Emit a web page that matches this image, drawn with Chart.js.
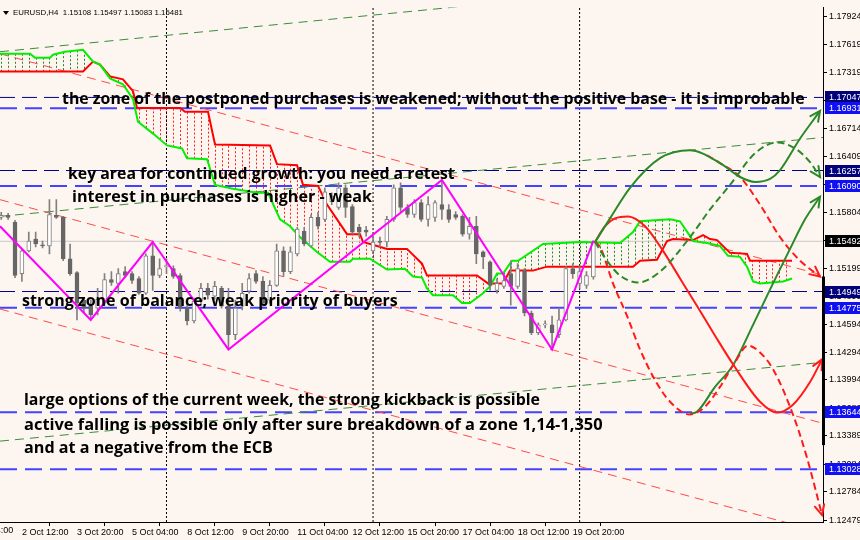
<!DOCTYPE html>
<html><head><meta charset="utf-8">
<script src="https://cdn.jsdelivr.net/npm/chart.js@4.4.1/dist/chart.umd.min.js"></script>
<style>html,body{margin:0;padding:0;background:#fdf6f0;}#wrap{width:860px;height:540px;}canvas{display:block;}</style>
</head><body><div id="wrap"><canvas id="c" width="860" height="540"></canvas></div>
<script>
// ---------- DATA ----------
const candleIdx = Array.from({length:87},(_,i)=>i);
const opens  = [1.15750,1.15772,1.15697,1.15143,1.15388,1.15516,1.15452,1.15442,1.15772,1.15750,1.15303,1.15154,1.14856,1.14792,1.14770,1.14824,1.15079,1.15037,1.15164,1.15143,1.15090,1.14930,1.15335,1.15122,1.15218,1.15196,1.15122,1.14770,1.14632,1.14845,1.14983,1.14898,1.14983,1.14792,1.14482,1.14792,1.14952,1.15143,1.15058,1.14856,1.15015,1.15388,1.15164,1.15356,1.15601,1.15442,1.15750,1.15729,1.15921,1.15857,1.16070,1.15868,1.15644,1.15612,1.15388,1.15484,1.15484,1.15729,1.16070,1.15857,1.15782,1.15910,1.15729,1.15750,1.15889,1.15836,1.15782,1.15761,1.15569,1.15655,1.15377,1.15271,1.14962,1.15005,1.15143,1.15005,1.15175,1.14717,1.14504,1.14589,1.14589,1.14482,1.14642,1.15196,1.15037,1.15015,1.15108];
const highs  = [1.15804,1.15793,1.15718,1.15399,1.15591,1.15591,1.15495,1.15942,1.15942,1.15761,1.15463,1.15164,1.14877,1.14856,1.14983,1.15143,1.15164,1.15196,1.15218,1.15164,1.15111,1.15356,1.15484,1.15303,1.15303,1.15228,1.15143,1.14824,1.14877,1.15037,1.15037,1.15058,1.15005,1.14983,1.14856,1.15037,1.15143,1.15175,1.15111,1.15068,1.15463,1.15431,1.15431,1.15644,1.15644,1.15782,1.15804,1.16070,1.16017,1.16123,1.16102,1.15889,1.15676,1.15655,1.15548,1.15537,1.15761,1.16102,1.16123,1.15889,1.15942,1.15942,1.15974,1.15932,1.16155,1.15889,1.15814,1.15782,1.15750,1.15761,1.15388,1.15282,1.15090,1.15122,1.15282,1.15250,1.15196,1.14738,1.14610,1.14632,1.14685,1.14770,1.15218,1.15250,1.15228,1.15164,1.15497];
const lows   = [1.15729,1.15729,1.15100,1.15058,1.15377,1.15431,1.15420,1.15356,1.15740,1.15282,1.15122,1.14642,1.14717,1.14642,1.14696,1.14802,1.15015,1.14930,1.15100,1.15037,1.14919,1.14919,1.14962,1.15100,1.15143,1.15090,1.14738,1.14589,1.14610,1.14824,1.14866,1.14866,1.14770,1.14323,1.14429,1.14749,1.14930,1.15037,1.14792,1.14824,1.15005,1.15111,1.15143,1.15335,1.15442,1.15431,1.15623,1.15708,1.15889,1.15836,1.15750,1.15569,1.15537,1.15548,1.15377,1.15431,1.15431,1.15708,1.15814,1.15750,1.15750,1.15708,1.15655,1.15708,1.15729,1.15697,1.15729,1.15548,1.15516,1.15250,1.15196,1.14962,1.14930,1.14983,1.14802,1.14983,1.14685,1.14482,1.14482,1.14557,1.14323,1.14451,1.14632,1.15090,1.14983,1.14983,1.15083];
const closes = [1.15772,1.15750,1.15122,1.15388,1.15495,1.15463,1.15442,1.15782,1.15750,1.15303,1.15143,1.14824,1.14770,1.14696,1.14866,1.15079,1.15047,1.15143,1.15122,1.15068,1.14930,1.15335,1.15122,1.15196,1.15228,1.15111,1.14770,1.14632,1.14845,1.14983,1.14909,1.15005,1.14792,1.14482,1.14770,1.14930,1.15090,1.15058,1.14824,1.15015,1.15388,1.15164,1.15377,1.15623,1.15463,1.15750,1.15655,1.16027,1.15974,1.16070,1.15857,1.15591,1.15591,1.15591,1.15484,1.15480,1.15729,1.16070,1.15857,1.15782,1.15910,1.15729,1.15889,1.15910,1.15836,1.15729,1.15750,1.15569,1.15655,1.15356,1.15324,1.15015,1.15037,1.15068,1.15005,1.15196,1.14717,1.14504,1.14589,1.14600,1.14504,1.14642,1.15196,1.15143,1.15164,1.15122,1.15481];

// Ichimoku cloud borders [bar index, price]
const spanA = [[-0.18,1.17519],[4.18,1.17519],[4.90,1.17477],[7.08,1.17477],[7.52,1.17509],[9.26,1.17541],[11.88,1.17562],[13.33,1.17434],[14.34,1.17402],[15.80,1.17253],[17.68,1.17189],[19.14,1.17029],[19.86,1.16784],[22.04,1.16656],[24.08,1.16528],[26.25,1.16496],[26.98,1.16390],[29.89,1.16379],[31.05,1.16102],[33.66,1.16059],[37.15,1.16017],[38.74,1.16017],[40.49,1.15729],[41.94,1.15655],[43.39,1.15537],[45.86,1.15377],[47.75,1.15271],[50.65,1.15271],[51.09,1.15303],[53.56,1.15303],[56.03,1.15186],[58.64,1.15196],[59.80,1.15111],[61.11,1.15100],[61.84,1.14983],[62.71,1.14909],[65.62,1.14909],[66.92,1.14824],[68.08,1.14824],[69.97,1.14930],[70.99,1.15005],[72.01,1.15143],[72.88,1.15143],[74.18,1.15282],[75.06,1.15282],[78.69,1.15463],[84.06,1.15484],[89.87,1.15474],[91.76,1.15591],[92.78,1.15708],[97.13,1.15729],[98.58,1.15708],[100.04,1.15548],[100.47,1.15495],[102.51,1.15474],[104.39,1.15442],[105.56,1.15335],[107.30,1.15324],[108.32,1.15218],[109.19,1.15058],[110.20,1.15037],[113.55,1.15058],[114.85,1.15090]];
const spanB = [[-0.18,1.17327],[11.88,1.17327],[13.33,1.17434],[14.34,1.17402],[15.80,1.17274],[17.68,1.17242],[19.14,1.17114],[19.72,1.16933],[25.96,1.16933],[26.69,1.16891],[30.03,1.16891],[31.05,1.16539],[39.04,1.16528],[40.05,1.16326],[42.96,1.16315],[43.83,1.16102],[46.01,1.16091],[47.31,1.15889],[50.22,1.15569],[52.11,1.15569],[52.54,1.15484],[54.58,1.15442],[56.03,1.15410],[58.93,1.15410],[61.11,1.15250],[61.84,1.15122],[69.10,1.15122],[70.70,1.15037],[72.88,1.15037],[73.89,1.15175],[77.23,1.15175],[79.27,1.15218],[91.76,1.15218],[92.78,1.15282],[95.24,1.15292],[96.70,1.15495],[97.57,1.15516],[100.47,1.15505],[101.93,1.15559],[102.94,1.15516],[103.96,1.15505],[105.85,1.15367],[108.32,1.15356],[108.75,1.15282],[114.85,1.15282]];

const zigzag = [[-0.18,1.15655],[13,1.14642],[22,1.15484],[33,1.14323],[64,1.16155],[80,1.14323],[86,1.15497]];

// channel lines [bar index, price]
const greenTop = [[-0.18,1.17541],[119.35,1.18414]];
const greenMid = [[-0.18,1.15761],[119.35,1.16614]];
const greenLow = [[-0.18,1.13332],[119.35,1.14184]];
const redTop   = [[-0.18,1.17519],[119.35,1.15125]];
const redMid   = [[-0.18,1.15942],[119.35,1.13524]];
const redLow   = [[-0.18,1.14760],[119.35,1.12344]];

// forecast paths [bar index, price]
const fcGreenUp   = [[86.24,1.15484],[88.42,1.15740],[91.32,1.16070],[95.68,1.16390],[100.04,1.16475],[104.39,1.16337],[107.30,1.16187],[109.48,1.16134],[111.66,1.16166],[113.11,1.16262],[116.02,1.16603],[118.92,1.16901]];
const fcGreenDash = [[86.24,1.15484],[87.98,1.15282],[89.87,1.15122],[92.49,1.15047],[95.68,1.15164],[100.04,1.15537],[102.94,1.15836],[105.85,1.16102],[109.48,1.16443],[112.67,1.16560],[115.29,1.16496],[117.47,1.16347],[118.92,1.16187]];
const fcRedSolid  = [[86.24,1.15484],[87.69,1.15655],[89.14,1.15740],[91.03,1.15761],[93.50,1.15655],[96.12,1.15388],[98.59,1.15090],[101.06,1.14792],[103.67,1.14472],[106.28,1.14163],[110.20,1.13758],[112.67,1.13641],[114.99,1.13726],[117.47,1.13971],[119.21,1.14216]];
const fcRedDash   = [[86.24,1.15484],[86.97,1.15431],[88.85,1.15037],[90.89,1.14685],[92.78,1.14323],[94.95,1.13992],[97.13,1.13758],[100.04,1.13620],[102.22,1.13705],[104.39,1.13918],[106.57,1.14184],[108.46,1.14365],[110.20,1.14291],[112.09,1.14110],[114.99,1.13620],[117.03,1.13151],[119.21,1.12533]];
const fcGreenLow  = [[100.04,1.13630],[101.06,1.13651],[103.67,1.13918],[106.28,1.14152],[109.19,1.14589],[112.09,1.15037],[114.56,1.15410],[116.74,1.15729],[118.92,1.15974]];
const fcRedBranch = [[102.51,1.16422],[104.39,1.16337],[107.30,1.16187],[110.20,1.15889],[113.11,1.15537],[116.02,1.15282],[118.92,1.15111]];

const navyLevels = [1.17047,1.16257,1.14949];
const blueLevels = [1.16931,1.16090,1.14775,1.13644,1.13028];
const currentPrice = 1.15492;
const sepIdx = [24,54,84];

const xTickIdx = [3,11,19,27,35,43,51,59,67,75,83];
const xTickLabels = ['2 Oct 12:00','3 Oct 20:00','5 Oct 04:00','8 Oct 12:00','9 Oct 20:00','11 Oct 04:00','12 Oct 12:00','15 Oct 20:00','17 Oct 04:00','18 Oct 12:00','19 Oct 20:00'];
const yTicks = [1.17924,1.17619,1.17319,1.17014,1.16714,1.16409,1.16109,1.15804,1.15499,1.15199,1.14899,1.14594,1.14294,1.13994,1.13689,1.13389,1.13084,1.12784,1.12479];

const title = 'EURUSD,H4  1.15108 1.15497 1.15083 1.15481';
const notes = [
  {text:'the zone of the postponed purchases is weakened; without the positive base - it is improbable', x:8.83, y:1.17029, w:743},
  {text:'key area for continued growth: you need a retest', x:9.70, y:1.16209, w:387},
  {text:'interest in purchases is higher - weak', x:10.28, y:1.15964, w:300},
  {text:'strong zone of balance; weak priority of buyers', x:3.02, y:1.14845, w:376},
  {text:'large options of the current week, the strong kickback is possible', x:3.31, y:1.13769, w:516},
  {text:'active falling is possible only after sure breakdown of a zone 1,14-1,350', x:3.31, y:1.13502, w:579},
  {text:'and at a negative from the ECB', x:3.31, y:1.13257, w:249}
];

// ---------- CHART ----------
const XMIN=-0.18, XMAX=119.35, YMIN=1.12458, YMAX=1.18020;
const pts = a => a.map(([x,y])=>({x,y}));
const lineDS = (a,color,width,dash,order,extra) => Object.assign({type:'line',data:pts(a),borderColor:color,borderWidth:width,borderDash:dash,pointRadius:0,fill:false,tension:0,order:order},extra||{});

const datasets = [];
sepIdx.forEach(i=>datasets.push(lineDS([[i,YMIN],[i,YMAX]],'#000',1,[2,2],10)));
datasets.push(lineDS([[XMIN,currentPrice],[XMAX,currentPrice]],'#c8c8c8',1,[],10));
navyLevels.forEach(v=>datasets.push(lineDS([[XMIN,v],[XMAX,v]],'#00008b',1,[15,7],9)));
blueLevels.forEach(v=>datasets.push(lineDS([[XMIN,v],[XMAX,v]],'#4343ff',2,[17,8],9)));
[greenTop,greenMid,greenLow].forEach(a=>datasets.push(lineDS(a,'#3a8c3a',1,[9,6],8)));
[redTop,redMid,redLow].forEach(a=>datasets.push(lineDS(a,'#ff4a4a',1,[9,6],8)));
datasets.push(lineDS(spanA,'#00f000',2,[],7));
datasets.push(lineDS(spanB,'#ff0000',2,[],7));
datasets.push({type:'bar',data:candleIdx.map((i,k)=>({x:i,y:[lows[k],highs[k]]})),backgroundColor:'#808080',barThickness:1,grouped:false,order:6});
datasets.push({type:'bar',data:candleIdx.map((i,k)=>({x:i,y:[opens[k],closes[k]]})),
  backgroundColor:candleIdx.map((i,k)=>closes[k]>=opens[k]?'#ffffff':'#666666'),
  borderColor:candleIdx.map((i,k)=>closes[k]>=opens[k]?'#808080':'#666666'),
  borderWidth:1,borderSkipped:false,barThickness:4,minBarLength:1,grouped:false,order:5});
datasets.push(lineDS(zigzag,'#ff00ff',2,[],4));
const forecasts = [
  [fcGreenUp,'#2a8a2a',[]],[fcGreenDash,'#2a8a2a',[7,4]],[fcRedSolid,'#ff1a1a',[]],
  [fcRedDash,'#ff1a1a',[7,4]],[fcGreenLow,'#2a8a2a',[]],[fcRedBranch,'#ff1a1a',[7,4]]
];
forecasts.forEach(([a,c,d])=>datasets.push(lineDS(a,c,2,d,2,{cubicInterpolationMode:'monotone'})));

function interp(arr,x){
  for(let k=0;k<arr.length-1;k++){const [x0,y0]=arr[k],[x1,y1]=arr[k+1];
    if(x>=x0&&x<=x1) return x1===x0?y0:y0+(y1-y0)*(x-x0)/(x1-x0);}
  return null;
}
function fitText(ctx,text,x,y,w,family,weight){
  ctx.font=weight+' 20px '+family;
  const m=ctx.measureText(text).width;
  ctx.font=weight+' '+(20*w/m).toFixed(2)+'px '+family;
  ctx.fillText(text,x,y);
}

const drawPlugin = {
  id:'draw',
  beforeDraw(chart){const c=chart.ctx;c.save();c.fillStyle='#fdf6f0';c.fillRect(0,0,chart.width,chart.height);c.restore();},
  beforeDatasetsDraw(chart){
    const {ctx,chartArea:a,scales:{x,y}}=chart;
    ctx.save();ctx.beginPath();ctx.rect(a.left,a.top,a.right-a.left,a.bottom-a.top);ctx.clip();
    ctx.lineWidth=1;ctx.setLineDash([2,2]);
    for(let i=0;i<=120;i++){
      const A=interp(spanA,i),B=interp(spanB,i);
      if(A===null||B===null) continue;
      const px=Math.round(x.getPixelForValue(i))+0.5;
      ctx.strokeStyle=A>=B?'#1f8a1f':'#ff1f1f';
      ctx.beginPath();ctx.moveTo(px,y.getPixelForValue(A));ctx.lineTo(px,y.getPixelForValue(B));ctx.stroke();
    }
    ctx.restore();
  },
  afterDatasetsDraw(chart){
    const {ctx,scales:{x,y}}=chart;
    ctx.save();ctx.setLineDash([]);ctx.lineWidth=2;ctx.lineCap='round';
    forecasts.forEach(([a,c])=>{
      const n=a.length;const p1=a[n-2],p2=a[n-1];
      const x1=x.getPixelForValue(p1[0]),y1=y.getPixelForValue(p1[1]);
      const x2=x.getPixelForValue(p2[0]),y2=y.getPixelForValue(p2[1]);
      const ang=Math.atan2(y2-y1,x2-x1),L=11,s=0.45;
      ctx.strokeStyle=c;ctx.beginPath();
      ctx.moveTo(x2-L*Math.cos(ang-s),y2-L*Math.sin(ang-s));ctx.lineTo(x2,y2);
      ctx.lineTo(x2-L*Math.cos(ang+s),y2-L*Math.sin(ang+s));ctx.stroke();
    });
    ctx.fillStyle='#000';ctx.textBaseline='middle';ctx.textAlign='left';
    notes.forEach(n=>fitText(ctx,n.text,x.getPixelForValue(n.x),y.getPixelForValue(n.y),n.w,'"Open Sans"','700'));
    ctx.restore();
  },
  afterDraw(chart){
    const {ctx,chartArea:a,scales:{x,y}}=chart;
    ctx.save();
    // title
    ctx.fillStyle='#000';ctx.beginPath();ctx.moveTo(3,11);ctx.lineTo(9,11);ctx.lineTo(6,15);ctx.closePath();ctx.fill();
    ctx.textBaseline='middle';ctx.textAlign='left';
    fitText(ctx,title,13,13,170,'"Liberation Sans"','normal');
    // thick segment on the price axis
    ctx.fillRect(a.right-1,y.getPixelForValue(1.15111),3,y.getPixelForValue(1.13289)-y.getPixelForValue(1.15111));
    // price boxes
    const box=(v,bg)=>{const py=Math.round(y.getPixelForValue(v));ctx.fillStyle=bg;ctx.fillRect(a.right+2,py-6,36,12);
      ctx.fillStyle='#fff';ctx.font='9px "Liberation Sans"';ctx.fillText(v.toFixed(5),a.right+6,py+0.5);};
    navyLevels.forEach(v=>box(v,'#00007a'));
    blueLevels.forEach(v=>box(v,'#1010f0'));
    box(currentPrice,'#000');
    // partial first date label
    ctx.fillStyle='#000';ctx.font='9px "Liberation Sans"';ctx.textBaseline='middle';
    ctx.fillText('1 Oct 04:00',x.getPixelForValue(-5),531);
    ctx.restore();
  }
};

new Chart(document.getElementById('c'),{
  type:'bar',
  data:{datasets},
  options:{
    responsive:false,animation:false,events:[],
    layout:{padding:0},
    plugins:{legend:{display:false},tooltip:{enabled:false}},
    scales:{
      x:{type:'linear',min:XMIN,max:XMAX,offset:false,position:'bottom',
        grid:{display:true,drawOnChartArea:false,drawTicks:true,tickLength:4,color:'#000'},
        border:{display:true,color:'#000',width:1},
        afterBuildTicks:s=>{s.ticks=xTickIdx.map(v=>({value:v}));},
        afterFit:s=>{s.height=18;},
        ticks:{autoSkip:false,maxRotation:0,align:'start',padding:1,color:'#000',font:{family:'Liberation Sans',size:9},
          callback:v=>xTickLabels[xTickIdx.indexOf(v)]}},
      y:{type:'linear',position:'right',min:YMIN,max:YMAX,
        grid:{display:true,drawOnChartArea:false,drawTicks:true,tickLength:4,color:'#000'},
        border:{display:true,color:'#000',width:1},
        afterBuildTicks:s=>{s.ticks=yTicks.map(v=>({value:v}));},
        afterFit:s=>{s.width=37;},
        ticks:{padding:2,color:'#000',font:{family:'Liberation Sans',size:9},callback:v=>v.toFixed(5)}}
    }
  },
  plugins:[drawPlugin]
});
</script></body></html>
